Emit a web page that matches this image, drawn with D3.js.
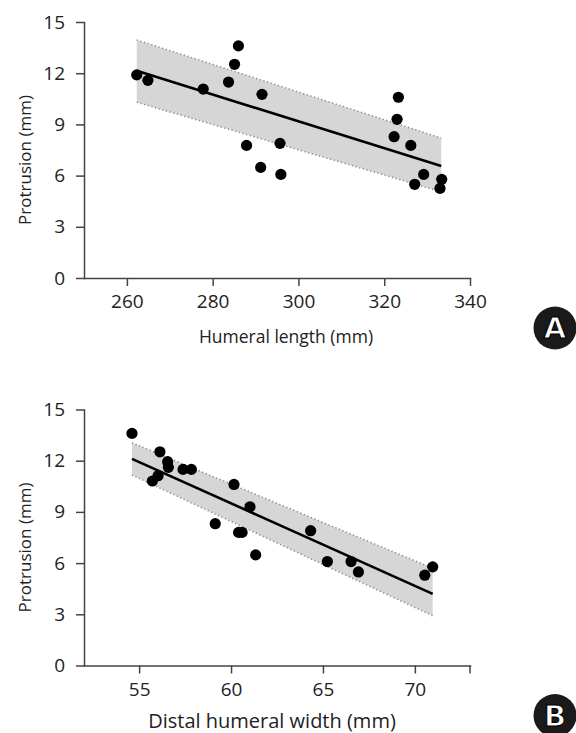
<!DOCTYPE html>
<meta charset="utf-8">
<style>
body { margin: 0; background: #fff; }
svg text { font-family: "Open Sans", "Noto Sans", sans-serif; fill: #222; }
.axis path, .axis line { stroke: #444; stroke-width: 1.5px; }
.axis text { font-size: 19px; }
.band { fill: #d6d6d6; }
.edge { fill: none; stroke: #8c8c8c; stroke-width: 1.6px; stroke-dasharray: 1.2 2.6; }
.fit { fill: none; stroke: #000; stroke-width: 2.6px; }
.dots circle { fill: #000; }
</style>
<svg width="576" height="733"></svg>
<script src="https://d3js.org/d3.v7.min.js"></script>
<script>
// panel A: humeral length vs protrusion
var lengthA = [262.3, 264.9, 277.8, 283.7, 285.1, 286.0, 287.9, 291.5, 291.2, 295.7, 295.9,
               323.3, 323.0, 322.3, 326.2, 329.2, 327.1, 333.4, 333.0];
var protA   = [11.9, 11.58, 11.07, 11.48, 12.52, 13.6, 7.77, 10.76, 6.48, 7.89, 6.07,
               10.59, 9.3, 8.28, 7.77, 6.07, 5.49, 5.78, 5.25];
var fitXA = [262.3, 333.3], fitYA = [12.14, 6.56];
var bandUpA = [13.95, 8.2], bandLoA = [10.3, 5.05];

// panel B: distal humeral width vs protrusion
var widthB = [54.61, 56.13, 55.72, 56.03, 56.55, 56.59, 57.39, 57.84, 59.14, 60.16, 60.41, 60.6,
              61.03, 61.34, 64.33, 65.24, 66.53, 66.93, 70.54, 70.97];
var protB  = [13.6, 12.52, 10.81, 11.12, 11.94, 11.61, 11.49, 11.49, 8.31, 10.61, 7.8, 7.8,
              9.3, 6.48, 7.9, 6.09, 6.09, 5.48, 5.29, 5.78];
var fitXB = [54.61, 70.97], fitYB = [12.11, 4.2];
var bandUpB = [13.05, 5.7], bandLoB = [11.16, 2.91];

var yTicks = [0, 3, 6, 9, 12, 15];
var xTicksA = [260, 280, 300, 320, 340];
var xTicksB = [55, 60, 65, 70];

var svg = d3.select("svg");

function panel(opt) {
  var g = svg.append("g").attr("transform", "translate(0," + opt.top + ")");
  var x = d3.scaleLinear().domain(opt.xDomain).range([84, 470]);
  var y = d3.scaleLinear().domain([0, 15]).range([256, 0]);

  // confidence band
  var band = opt.fitX.map(function(v, i) { return {x: v, hi: opt.up[i], lo: opt.lo[i]}; });
  g.append("path").attr("class", "band")
    .attr("d", d3.area().x(function(d) { return x(d.x); })
      .y0(function(d) { return y(d.lo); }).y1(function(d) { return y(d.hi); })(band));
  var ln = function(key) {
    return d3.line().x(function(d) { return x(d.x); }).y(function(d) { return y(d[key]); })(band);
  };
  g.append("path").attr("class", "edge").attr("d", ln("hi"));
  g.append("path").attr("class", "edge").attr("d", ln("lo"));

  // fit line
  var fit = opt.fitX.map(function(v, i) { return {x: v, y: opt.fitY[i]}; });
  g.append("path").attr("class", "fit")
    .attr("d", d3.line().x(function(d) { return x(d.x); }).y(function(d) { return y(d.y); })(fit));

  // points
  g.append("g").attr("class", "dots").selectAll("circle")
    .data(opt.xs.map(function(v, i) { return [v, opt.ys[i]]; }))
    .enter().append("circle")
    .attr("cx", function(d) { return x(d[0]); })
    .attr("cy", function(d) { return y(d[1]); })
    .attr("r", 5.6);

  // axes
  var xa = g.append("g").attr("class", "axis").attr("transform", "translate(0,256)")
    .call(d3.axisBottom(x).tickValues(opt.xTicks).tickFormat(d3.format("d"))
      .tickSize(8).tickSizeOuter(0).tickPadding(9));
  if (opt.endTick) {
    xa.append("line").attr("x1", x(opt.xDomain[1])).attr("x2", x(opt.xDomain[1]))
      .attr("y1", 0).attr("y2", 8);
  }
  g.append("g").attr("class", "axis").attr("transform", "translate(84,0)")
    .call(d3.axisLeft(y).tickValues(yTicks).tickSize(8).tickSizeOuter(0).tickPadding(11));
  g.selectAll(".axis .domain").attr("stroke-linecap", "square");

  // axis titles
  g.append("text").attr("transform", "translate(31,138) rotate(-90)")
    .attr("text-anchor", "middle").style("font-size", "17px").text("Protrusion (mm)");
  g.append("text").attr("x", opt.titleX).attr("y", opt.titleY)
    .attr("text-anchor", "middle").style("font-size", opt.titleSize).text(opt.title);

  // panel badge
  var b = g.append("g").attr("transform", "translate(555," + opt.badgeY + ")");
  b.append("circle").attr("r", 21.5).attr("fill", "#1a1a1a");
  b.append("text").attr("text-anchor", "middle").attr("dy", "0.36em")
    .style("font-size", "29px").style("font-weight", "bold")
    .style("fill", "#fff").style("stroke", "#000").style("stroke-width", "1.2px")
    .style("font-family", "'DejaVu Sans', sans-serif").text(opt.badge);
}

panel({top: 22, xDomain: [250, 340], xs: lengthA, ys: protA, fitX: fitXA, fitY: fitYA,
       up: bandUpA, lo: bandLoA, xTicks: xTicksA, endTick: false,
       title: "Humeral length (mm)", titleSize: "17.5px", titleX: 286, titleY: 321,
       badge: "A", badgeY: 306});
panel({top: 409.5, xDomain: [52, 73], xs: widthB, ys: protB, fitX: fitXB, fitY: fitYB,
       up: bandUpB, lo: bandLoB, xTicks: xTicksB, endTick: true,
       title: "Distal humeral width (mm)", titleSize: "20px", titleX: 272, titleY: 318,
       badge: "B", badgeY: 306});
</script>
